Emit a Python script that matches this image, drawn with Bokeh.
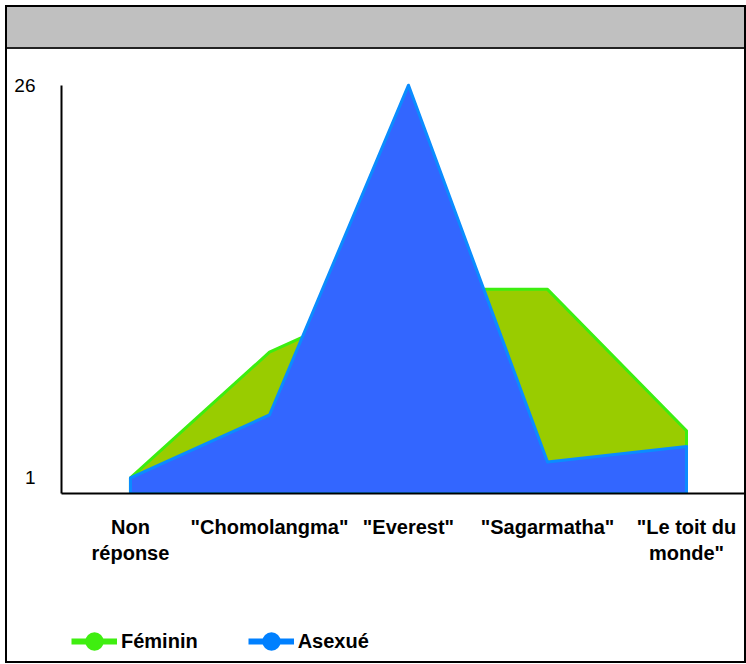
from bokeh.plotting import figure
from bokeh.models import Range1d, FixedTicker, Legend, LegendItem, Div, ColumnDataSource
from bokeh.layouts import column
from bokeh.embed import file_html
from bokeh.resources import INLINE

categories = ["Non\nréponse", '"Chomolangma"', '"Everest"', '"Sagarmatha"', '"Le toit du\nmonde"']
feminin = [1, 9, 13, 13, 4]
asexue = [1, 5, 26, 2, 3]
series_names = ["Féminin", "Asexué"]
y_ticks = [1, 26]

FONT = "Liberation Sans"
W = 737

p = figure(width=W, height=551, output_backend="svg", toolbar_location=None,
           x_range=Range1d(-0.496, 4.417), y_range=Range1d(0, 27),
           min_border_left=54, min_border_right=0, min_border_top=20, min_border_bottom=107,
           margin=0)
p.outline_line_color = None
p.grid.visible = False
p.background_fill_color = "white"
p.border_fill_color = "white"

xs = list(range(len(categories)))

def polygon(vals):
    return xs + [xs[-1], xs[0]], list(vals) + [0, 0]

fx, fy = polygon(feminin)
p.patch(fx, fy, fill_color="#99cc00", line_color="#3cee10", line_width=3, line_join="round")
ax_, ay_ = polygon(asexue)
p.patch(ax_, ay_, fill_color="#3366ff", line_color="#0a8cff", line_width=3, line_join="round")

# axes
xa = p.xaxis[0]
xa.ticker = FixedTicker(ticks=xs)
xa.major_label_overrides = {i: c for i, c in enumerate(categories)}
xa.major_label_text_font = FONT
xa.major_label_text_font_style = "bold"
xa.major_label_text_font_size = "20px"
xa.major_label_text_color = "black"
xa.major_label_standoff = 16
xa.major_tick_line_color = None
xa.minor_tick_line_color = None
xa.axis_line_color = "black"
xa.axis_line_width = 2

ya = p.yaxis[0]
ya.ticker = FixedTicker(ticks=y_ticks)
ya.bounds = (0, max(y_ticks))
ya.major_label_text_font = "Arial"
ya.major_label_text_font_size = "19px"
ya.major_label_text_color = "black"
ya.major_label_standoff = 20
ya.major_tick_line_color = None
ya.minor_tick_line_color = None
ya.axis_line_color = "black"
ya.axis_line_width = 2

# legend in its own strip below the chart (proxy renderers draw nothing)
p2 = figure(width=W, height=61, output_backend="svg", toolbar_location=None,
            x_range=Range1d(0, 1), y_range=Range1d(0, 1),
            x_axis_location=None, y_axis_location=None,
            min_border=0, margin=0)
p2.outline_line_color = None
p2.grid.visible = False

nan = float("nan")
items = []
for name, col in zip(series_names, ["#3fee10", "#0080ff"]):
    src = ColumnDataSource(data=dict(x=[nan], y=[nan]))
    r1 = p2.line("x", "y", source=src, line_color=col, line_width=6)
    r2 = p2.scatter("x", "y", source=src, size=20, fill_color=col, line_color=None)
    items.append(LegendItem(label=name, renderers=[r1, r2]))

legend = Legend(items=items, orientation="horizontal", location=(10, -5),
                glyph_width=46, glyph_height=50, label_standoff=4, spacing=50,
                padding=0, margin=0, border_line_color=None, background_fill_alpha=0,
                label_text_font=FONT, label_text_font_style="bold",
                label_text_font_size="20px", label_text_color="black")
p2.add_layout(legend, "center")

title_bar = Div(text="", width=W, height=40, margin=0,
                styles={"background-color": "#c0c0c0"})
title_rule = Div(text="", width=W, height=2, margin=0,
                 styles={"background-color": "#222222"})

layout = column(title_bar, title_rule, p, p2, spacing=0, margin=(5, 0, 0, 5),
                styles={"border": "2px solid black", "background-color": "white"})

open("out.html", "w").write(file_html(layout, INLINE))
